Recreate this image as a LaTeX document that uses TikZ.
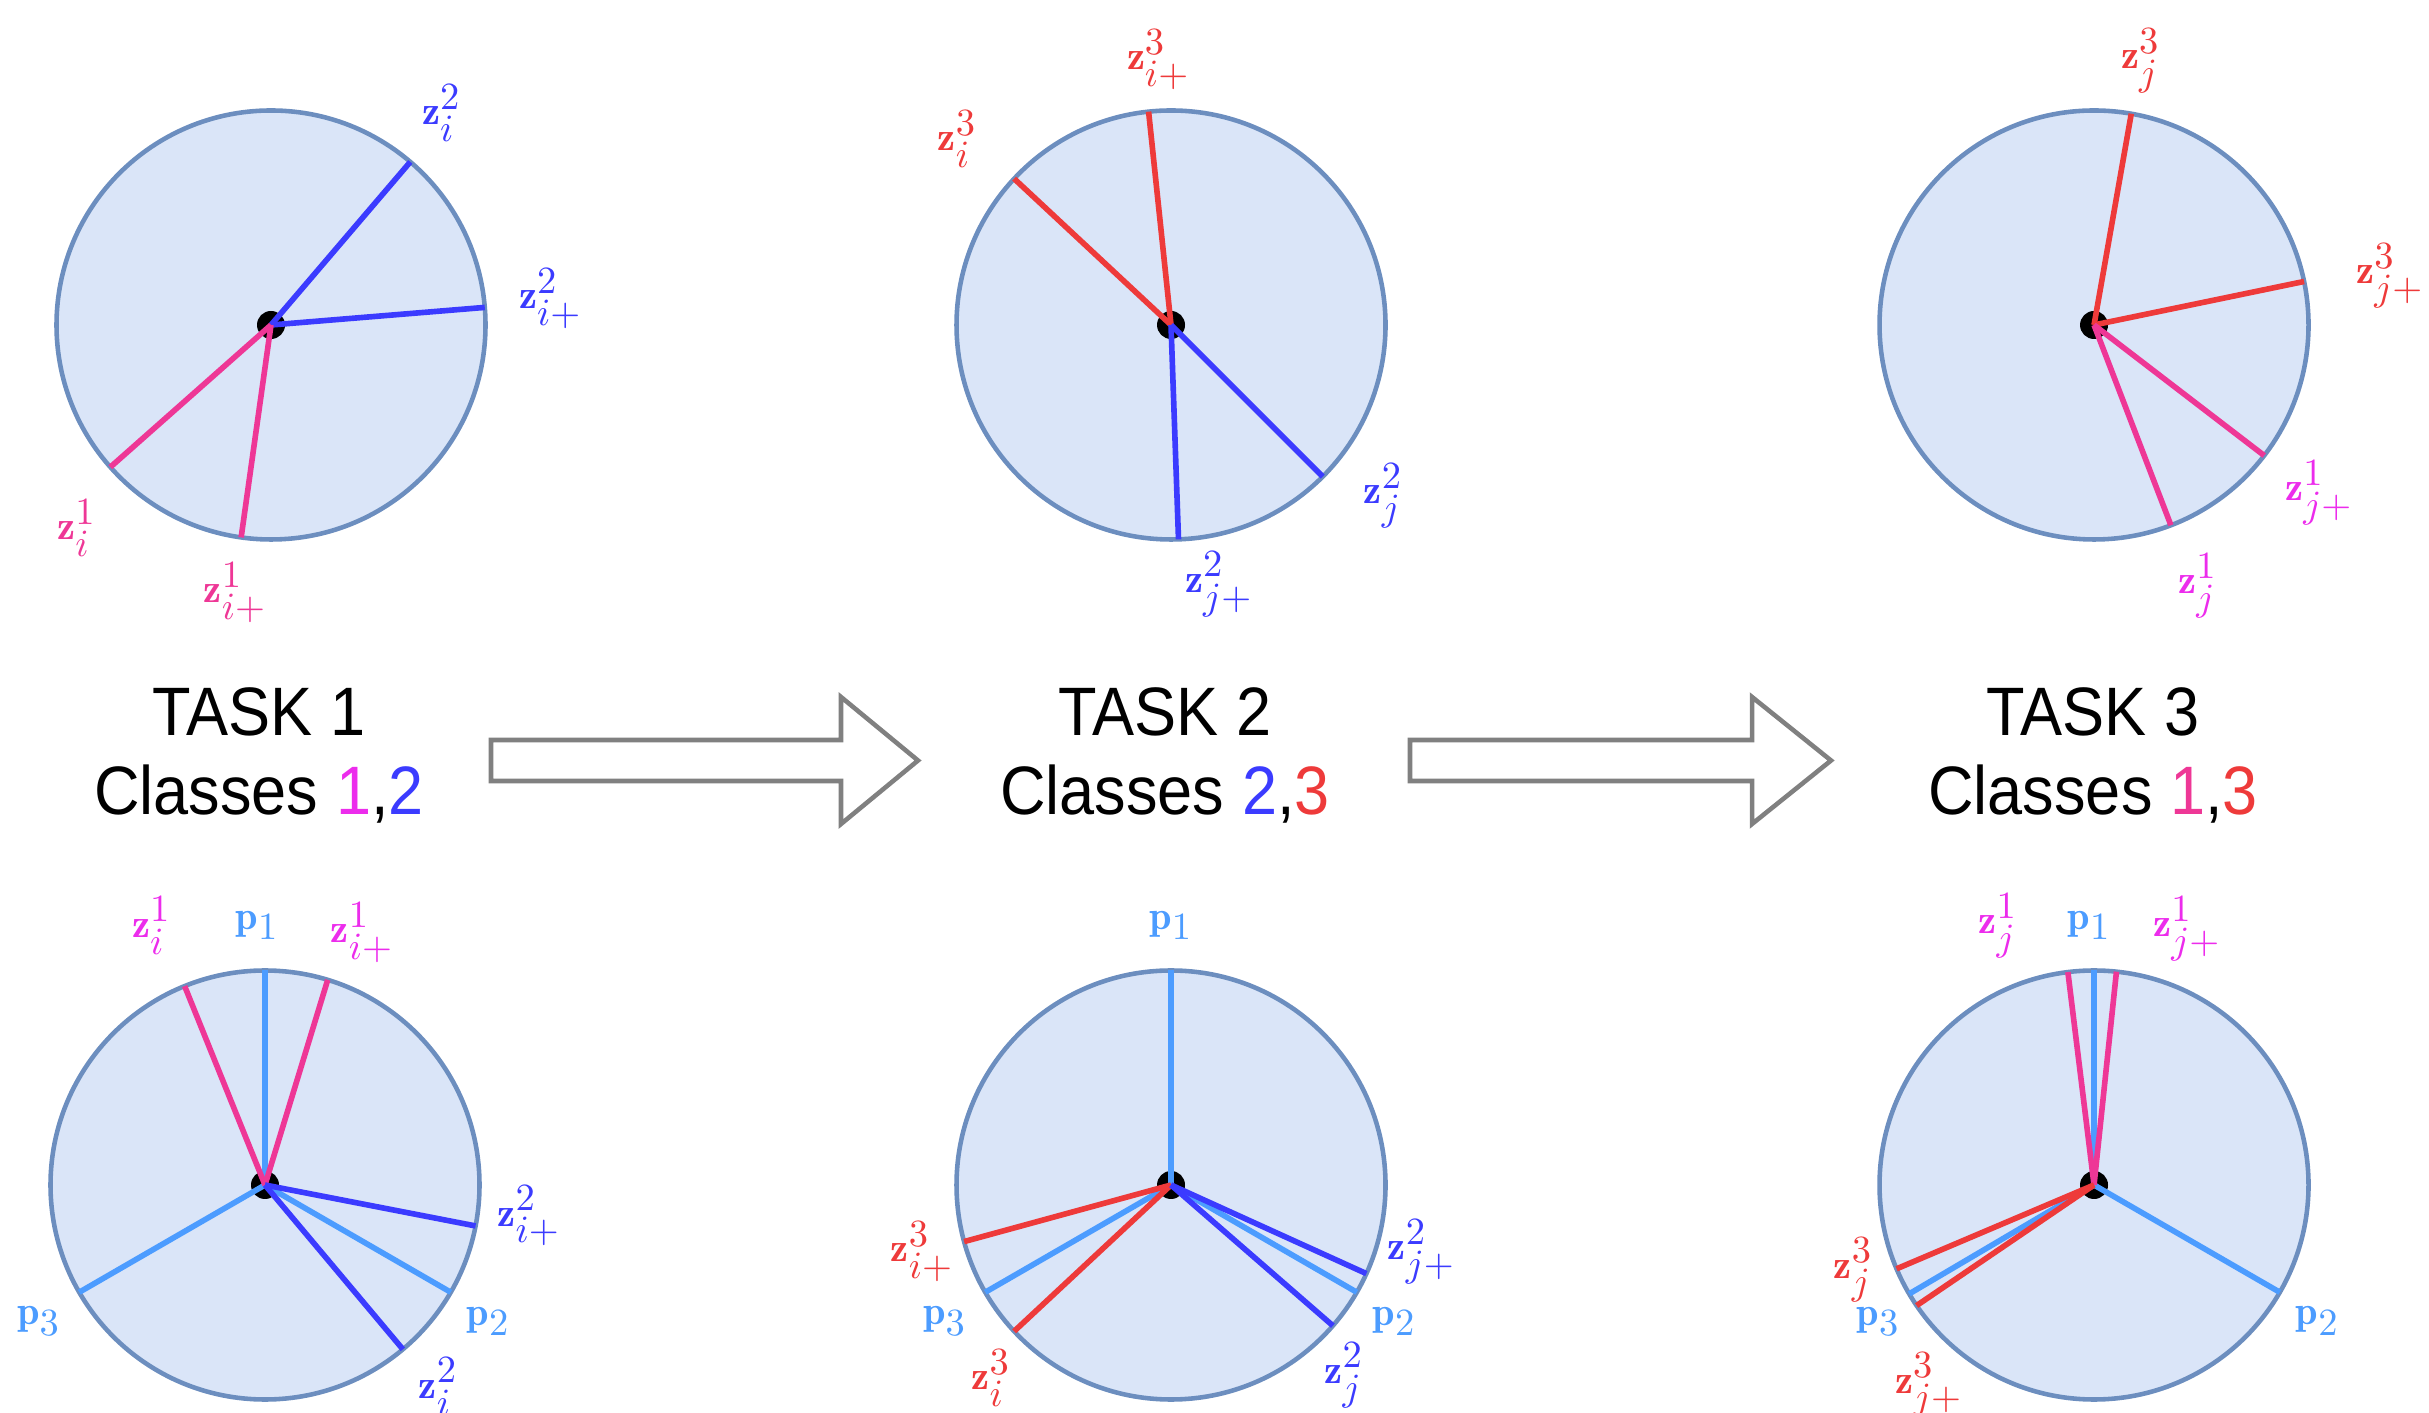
\documentclass[tikz,border=0pt]{standalone}
\usepackage{amsmath,bm}
\usepackage{fontspec}
\newfontfamily\taskfont[FakeStretch=0.92]{Liberation Sans}
\usetikzlibrary{calc}
\DeclareMathSizes{11.5}{11.5}{10.5}{9}
\definecolor{cpink}{HTML}{EE3796}
\definecolor{cmag}{HTML}{EC2CEC}
\definecolor{cblue}{HTML}{3B3BFF}
\definecolor{cred}{HTML}{EE3A3A}
\definecolor{cproto}{HTML}{4C9CFF}
\definecolor{cfill}{HTML}{DAE5F8}
\definecolor{cedge}{HTML}{6C8EBF}
\definecolor{carrow}{HTML}{808080}

\begin{document}
\begin{tikzpicture}[
  disk/.style={fill=cfill,draw=cedge,line width=1.3pt},
  ray/.style={line width=1.6pt},
  lab/.style={font=\fontsize{11.5}{14}\selectfont,inner sep=0pt},
  task/.style={font=\taskfont\fontsize{19.5}{23}\selectfont,inner sep=0pt,anchor=base},
  hollow/.style={draw=carrow,line width=1.3pt,line join=miter}
]
  \useasboundingbox (0,0) rectangle (24.29,14.12);
  \def\R{2.145}
  % 六个圆盘的中心（上排：特征，下排：含原型）
  \coordinate (O1) at (2.71,10.87);
  \coordinate (O2) at (11.71,10.87);
  \coordinate (O3) at (20.94,10.87);
  \coordinate (O4) at (2.65,2.27);
  \coordinate (O5) at (11.71,2.27);
  \coordinate (O6) at (20.94,2.27);
  \foreach \k in {1,...,6}{
    \draw[disk] (O\k) circle (\R);
    \fill (O\k) circle (0.14);
  }
  % 任务 1：类别 1,2
  \foreach \ang/\lc/\tc/\la/\lr/\txt [count=\n] in {
      49.5/cblue/cblue/51.2/1.27/{\mathbf{z}_i^2},
      4.7/cblue/cblue/5.4/1.31/{\mathbf{z}_{i+}^2},
      221.5/cpink/cpink/226.3/1.31/{\mathbf{z}_i^1},
      262/cpink/cpink/262.4/1.26/{\mathbf{z}_{i+}^1}}{
    \draw[ray,\lc] (O1) -- ($(O1)+(\ang:\R)$);
    \node[lab,text=\tc] (a\n) at ($(O1)+(\la:\lr*\R)$) {$\txt$};
  }
  % 任务 2：类别 2,3
  \foreach \ang/\lc/\tc/\la/\lr/\txt [count=\n] in {
      137/cred/cred/139/1.32/{\mathbf{z}_i^3},
      96/cred/cred/92.7/1.24/{\mathbf{z}_{i+}^3},
      -45/cblue/cblue/-38.8/1.27/{\mathbf{z}_j^2},
      -88/cblue/cblue/-79.5/1.23/{\mathbf{z}_{j+}^2}}{
    \draw[ray,\lc] (O2) -- ($(O2)+(\ang:\R)$);
    \node[lab,text=\tc] (b\n) at ($(O2)+(\la:\lr*\R)$) {$\txt$};
  }
  % 任务 3：类别 1,3
  \foreach \ang/\lc/\tc/\la/\lr/\txt [count=\n] in {
      80/cred/cred/80/1.25/{\mathbf{z}_j^3},
      11.7/cred/cred/9.5/1.4/{\mathbf{z}_{j+}^3},
      -37.5/cpink/cmag/-36.7/1.31/{\mathbf{z}_{j+}^1},
      -69/cpink/cmag/-68.3/1.31/{\mathbf{z}_j^1}}{
    \draw[ray,\lc] (O3) -- ($(O3)+(\ang:\R)$);
    \node[lab,text=\tc] (c\n) at ($(O3)+(\la:\lr*\R)$) {$\txt$};
  }
  % 下排：原型 p1,p2,p3 与特征
  \foreach \ang/\lc/\tc/\la/\lr/\txt [count=\n] in {
      90/cproto/cproto/91.7/1.21/{\mathbf{p}_1},
      -30/cproto/cproto/-31.4/1.22/{\mathbf{p}_2},
      210/cproto/cproto/211/1.23/{\mathbf{p}_3},
      112/cpink/cmag/113.6/1.32/{\mathbf{z}_i^1},
      73/cpink/cmag/68.9/1.26/{\mathbf{z}_{i+}^1},
      -11/cblue/cblue/-6.7/1.24/{\mathbf{z}_{i+}^2},
      -50/cblue/cblue/-49.3/1.24/{\mathbf{z}_i^2}}{
    \draw[ray,\lc] (O4) -- ($(O4)+(\ang:\R)$);
    \node[lab,text=\tc] (d\n) at ($(O4)+(\la:\lr*\R)$) {$\txt$};
  }
  \foreach \ang/\lc/\tc/\la/\lr/\txt [count=\n] in {
      90/cproto/cproto/90/1.21/{\mathbf{p}_1},
      -30/cproto/cproto/-31.4/1.22/{\mathbf{p}_2},
      210/cproto/cproto/211/1.23/{\mathbf{p}_3},
      195.3/cred/cred/195/1.2/{\mathbf{z}_{i+}^3},
      223/cred/cred/227/1.23/{\mathbf{z}_i^3},
      -24.4/cblue/cblue/-14.9/1.21/{\mathbf{z}_{j+}^2},
      -41/cblue/cblue/-47.7/1.2/{\mathbf{z}_j^2}}{
    \draw[ray,\lc] (O5) -- ($(O5)+(\ang:\R)$);
    \node[lab,text=\tc] (e\n) at ($(O5)+(\la:\lr*\R)$) {$\txt$};
  }
  \foreach \ang/\lc/\tc/\la/\lr/\txt [count=\n] in {
      90/cproto/cproto/91/1.21/{\mathbf{p}_1},
      -30/cproto/cproto/-31.3/1.22/{\mathbf{p}_2},
      210.5/cproto/cproto/212.3/1.19/{\mathbf{p}_3},
      97/cpink/cmag/110.3/1.29/{\mathbf{z}_j^1},
      84/cpink/cmag/70/1.27/{\mathbf{z}_{j+}^1},
      203/cred/cred/199.5/1.19/{\mathbf{z}_j^3},
      214.2/cred/cred/230.5/1.21/{\mathbf{z}_{j+}^3}}{
    \draw[ray,\lc] (O6) -- ($(O6)+(\ang:\R)$);
    \node[lab,text=\tc] (f\n) at ($(O6)+(\la:\lr*\R)$) {$\txt$};
  }
  % 任务标题
  \node[task] (t1) at (2.59,6.76) {TASK 1};
  \node[task] (k1) at (2.59,5.97) {Classes {\color{cmag}1},{\color{cblue}2}};
  \node[task] (t2) at (11.65,6.76) {TASK 2};
  \node[task] (k2) at (11.65,5.97) {Classes {\color{cblue}2},{\color{cred}3}};
  \node[task] (t3) at (20.93,6.76) {TASK 3};
  \node[task] (k3) at (20.93,5.97) {Classes {\color{cpink}1},{\color{cred}3}};
  % 空心箭头
  \foreach \xs/\xh/\xt in {4.91/8.41/9.18, 14.10/17.52/18.31}
    \draw[hollow] (\xs,6.72) -- (\xh,6.72) -- (\xh,7.15) -- (\xt,6.515)
      -- (\xh,5.88) -- (\xh,6.31) -- (\xs,6.31) -- cycle;
\end{tikzpicture}
\end{document}
